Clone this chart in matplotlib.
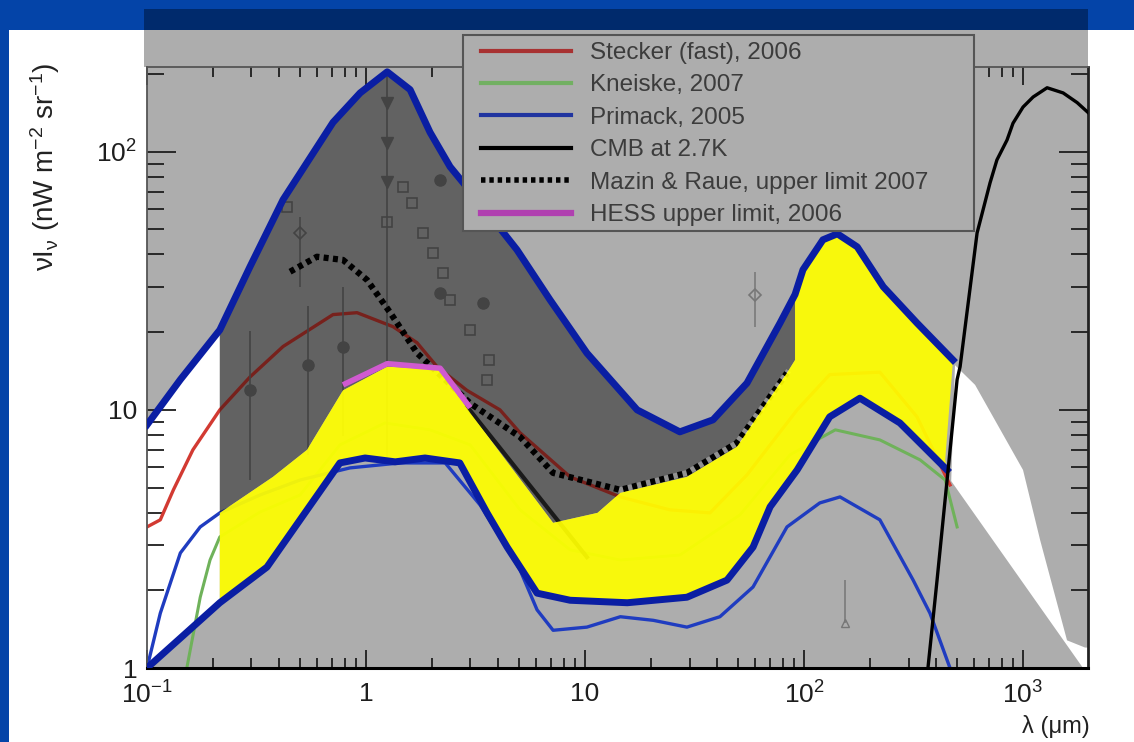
import matplotlib
matplotlib.use("Agg")
import matplotlib.pyplot as plt
from matplotlib.patches import Rectangle, Polygon
from matplotlib.lines import Line2D

plt.rcParams.update(
    {
        "font.family": ["Liberation Sans", "DejaVu Sans"],
        "mathtext.fontset": "custom",
        "mathtext.rm": "Liberation Sans",
        "mathtext.it": "Liberation Sans:italic",
        "mathtext.bf": "Liberation Sans:bold",
    }
)

# --- data (wavelength in micron, nu I_nu in nW m^-2 sr^-1) -------------------
upper_x = [0.1, 0.142, 0.215, 0.295, 0.418, 0.707, 0.94, 1.25, 1.59, 1.96, 2.42,
           3.42, 4.89, 6.92, 10.2, 17.3, 27.1, 38.4, 54.9, 77.7, 91, 98.9, 122,
           142, 175, 230, 328, 479]
upper_y = [8.75, 13.1, 20.4, 35.8, 65.2, 130, 169, 204, 174, 119, 87.5,
           61.2, 41.7, 26.7, 16.6, 10.0, 8.22, 9.15, 12.7, 21.7, 28.0, 34.9, 45.6,
           48.1, 42.8, 30.0, 21.7, 15.6]

lower_x = [0.1, 0.215, 0.353, 0.5, 0.76, 0.99, 1.36, 1.86, 2.68, 3.57, 4.41,
           6.04, 8.55, 15.6, 29.2, 44.5, 58.5, 70, 93, 131, 180, 274, 364, 450]
lower_y = [1.0, 1.79, 2.46, 3.75, 6.23, 6.51, 6.29, 6.51, 6.23, 3.99, 2.94,
           1.95, 1.83, 1.79, 1.88, 2.19, 2.94, 4.21, 5.85, 9.4, 11.1, 8.9, 7.0, 5.85]

band_top_x = [0.215, 0.376, 0.538, 0.785, 1.25, 2.18, 2.99, 7.15, 11.4, 14.5,
              29.2, 49.4, 83.6, 91]
band_top_y = [3.99, 5.5, 7.0, 11.9, 14.7, 14.3, 9.73, 3.65, 3.99, 4.77,
              5.5, 7.19, 13.9, 15.6]
band_edge = (441, 6.4)

stecker_x = [0.1, 0.115, 0.132, 0.162, 0.215, 0.295, 0.418, 0.707, 0.91, 1.33,
             1.71, 2.11, 2.89, 4.09, 5.05, 8.55, 14.5, 24.4, 37.2, 54.9, 93,
             131, 222, 328, 464]
stecker_y = [3.52, 3.75, 4.9, 7.0, 10.0, 13.4, 17.6, 23.4, 23.8, 21.0,
             18.2, 14.7, 11.9, 10.0, 8.15, 5.5, 4.6, 4.1, 3.99, 5.6, 10.0,
             13.7, 14.0, 9.4, 5.12]

kneiske_x = [0.152, 0.175, 0.194, 0.215, 0.328, 0.5, 0.76, 1.22, 1.96, 2.99,
             5.05, 8.55, 14.5, 27.1, 51, 86.3, 139, 222, 339, 441, 500]
kneiske_y = [1.0, 1.88, 2.62, 3.22, 4.02, 4.68, 7.32, 8.9, 8.37, 7.32,
             4.1, 2.87, 2.62, 2.74, 3.92, 6.7, 8.37, 7.65, 6.4, 5.35, 3.52]

primack_x = [0.1, 0.115, 0.142, 0.175, 0.215, 0.328, 0.5, 0.845, 1.43, 2.3,
             3.32, 4.32, 5.05, 6.04, 7.15, 10.2, 14.5, 20.5, 29.2, 41.3, 58.5,
             83.6, 118, 146, 222, 315, 376, 464]
primack_y = [1.0, 1.63, 2.79, 3.52, 3.99, 4.68, 5.35, 5.96, 6.23, 6.23,
             4.28, 3.0, 2.4, 1.68, 1.40, 1.44, 1.58, 1.53, 1.44, 1.58, 2.06,
             3.52, 4.36, 4.6, 3.75, 2.19, 1.63, 1.0]

cmb_x = [368, 405, 450, 500, 516, 617, 707, 760, 845, 900, 1000, 1112, 1288,
         1525, 1767, 1980]
cmb_y = [1.0, 2.19, 5.35, 13.1, 14.7, 48.5, 75.8, 93, 111, 129, 149, 163, 177,
         169, 155, 142]

mazin_x = [0.45, 0.597, 0.785, 1.01, 1.29, 1.71, 2.99, 5.05, 7.15, 14.5,
           29.2, 49.4, 83.6]
mazin_y = [34.3, 39.2, 38.1, 31.9, 23.8, 16.6, 10.6, 7.86, 5.7, 4.9,
           5.7, 7.45, 13.9]

hess_x = [0.785, 1.25, 2.18, 2.99]
hess_y = [12.5, 15.1, 14.5, 10.2]

white_x = [489, 604, 1000, 1197, 1588, 1919, 1980, 1980, 1879, 470]
white_y = [14.9, 12.5, 5.85, 3.13, 1.28, 1.2, 1.2, 1.0, 1.0, 5.3]

# faint measurement markers of the underlying plot
circ_x = [0.295, 0.543, 0.785, 2.18, 2.18, 3.42]
circ_y = [11.9, 14.9, 17.6, 78, 28.4, 26]
sq_x = [1.25, 1.48, 1.63, 1.82, 2.02, 2.24, 2.42, 2.99, 3.66, 3.57, 0.436]
sq_y = [53.5, 73, 63.4, 48.5, 40.6, 34, 26.7, 20.4, 15.6, 13.1, 61]
tri_x = [1.25, 1.25, 1.25]
tri_y = [155, 108, 76.5]
dia_x = [0.5, 59.7]
dia_y = [48.5, 27.9]
dia_lo = [30, 21.0]
dia_hi = [56, 34.3]
uparrow_x = [154]
uparrow_y = [1.5]

W, H = 1134, 742


def fx(px):
    return px / W


def fy(py):
    return 1 - py / H


BLUE_FRAME = "#0444a8"
NAVY = "#002a6c"
GREY = "#adadad"
ENV = "#0a1ea3"
DOTS = (0, (0.8, 0.7))
MARK = "#767676"

fig = plt.figure(figsize=(W / 100, H / 100), dpi=100)
fig.patch.set_facecolor(BLUE_FRAME)

# slide background pieces
fig.add_artist(Rectangle((fx(9), 0), 1 - fx(9), fy(30), transform=fig.transFigure,
                         facecolor="white", edgecolor="none", zorder=-5))
fig.add_artist(Rectangle((fx(144), fy(30)), fx(1088 - 144), 21 / H,
                         transform=fig.transFigure, facecolor=NAVY,
                         edgecolor="none", zorder=-5))
fig.add_artist(Rectangle((fx(144), fy(67)), fx(1088 - 144), 37 / H,
                         transform=fig.transFigure, facecolor=GREY,
                         edgecolor="none", zorder=-5))

ax = fig.add_axes([fx(147), fy(668), fx(1088 - 147), (668 - 67) / H])
ax.set_facecolor(GREY)
ax.set_xscale("log")
ax.set_yscale("log")
ax.set_xlim(0.1, 1980)
ax.set_ylim(1, 213)

# white patches
left_white = [(x, y) for x, y in zip(upper_x, upper_y) if x <= 0.215]
left_white += [(x, y) for x, y in zip(lower_x, lower_y) if x <= 0.215][::-1]
ax.add_patch(Polygon(left_white, closed=True, facecolor="white",
                     edgecolor="none", zorder=1))
ax.add_patch(Polygon(list(zip(white_x, white_y)), closed=True, facecolor="white",
                     edgecolor="none", zorder=1))

# model curves
ax.plot(stecker_x, stecker_y, color="#d23a32", lw=2.4, zorder=2)
ax.plot(kneiske_x, kneiske_y, color="#6fb25a", lw=2.2, zorder=2)
ax.plot(primack_x, primack_y, color="#1f3cc0", lw=2.4, zorder=2)

# underlying data points
mk = dict(color=MARK, ls="none", zorder=2)
ax.plot(circ_x, circ_y, marker="o", ms=8, **mk)
ax.plot(sq_x, sq_y, marker="s", ms=7, mfc="none", mew=1.2, **mk)
ax.plot(tri_x, tri_y, marker="v", ms=9, **mk)
ax.plot(dia_x, dia_y, marker="D", ms=6, mfc="none", mew=1.2, **mk)
ax.vlines(dia_x, dia_lo, dia_hi, color=MARK, lw=1.1, zorder=2)
ax.plot(uparrow_x, uparrow_y, marker="^", ms=6, mfc="none", **mk)
ax.vlines(uparrow_x, [y * 1.0 for y in uparrow_y], [2.2], color=MARK, lw=1.1,
          zorder=2)
ax.vlines([1.25], 6.5, 204, color=MARK, lw=1.2, zorder=2)
for x, y in zip(circ_x[:3], circ_y[:3]):
    ax.vlines([x], y * 0.45, y * 1.7, color=MARK, lw=1.2, zorder=2)

ax.plot(mazin_x[-4:], mazin_y[-4:], color="white", lw=4, zorder=2.5)
ax.plot(mazin_x, mazin_y, color="black", lw=4.5, ls=DOTS, zorder=2.6)

# dark overlay (upper limit region)
dark = [(x, y) for x, y in zip(upper_x, upper_y) if 0.215 <= x <= 91]
dark += list(zip(band_top_x, band_top_y))[::-1]
ax.add_patch(Polygon(dark, closed=True, facecolor="black", alpha=0.43,
                     edgecolor="none", zorder=3))
ax.plot([2.89, 10.2], [10.3, 2.69], color="#1a1a1a", lw=3, zorder=3.1)

# yellow band
band = list(zip(band_top_x, band_top_y))
band += [(x, y) for x, y in zip(upper_x, upper_y) if x >= 91]
band += [band_edge]
band += [(x, y) for x, y in zip(lower_x, lower_y) if x >= 0.215][::-1]
ax.add_patch(Polygon(band, closed=True, facecolor="#ffff00", alpha=0.93,
                     edgecolor="none", zorder=4))
ax.plot(hess_x, hess_y, color="#d05ad0", lw=4, zorder=4.2,
        solid_capstyle="butt")

# envelope lines
ax.plot(upper_x, upper_y, color=ENV, lw=5, zorder=5, solid_joinstyle="round")
ax.plot(lower_x, lower_y, color=ENV, lw=5, zorder=5, solid_joinstyle="round")
ax.plot(cmb_x, cmb_y, color="black", lw=2.4, zorder=5)

# axes styling
ax.set_xticks([0.1, 1, 10, 100, 1000])
ax.set_xticklabels([r"$10^{-1}$", "1", "10", r"$10^{2}$", r"$10^{3}$"])
ax.set_yticks([1, 10, 100])
ax.set_yticklabels(["1", "10", r"$10^{2}$"])
ax.tick_params(which="both", direction="in", top=True, right=True,
               labelsize=19, colors="#1e1e1e")
ax.tick_params(axis="y", which="major", length=21, width=1.3, pad=7)
ax.tick_params(axis="y", which="minor", length=12, width=1.3)
ax.tick_params(axis="x", which="major", length=13, width=1.3, pad=10)
ax.tick_params(axis="x", which="minor", length=7, width=1.3)
for side, lw, c in [("bottom", 2.2, "black"), ("right", 2.0, "#222222"),
                    ("left", 1.3, "#555555"), ("top", 1.3, "#555555")]:
    ax.spines[side].set_linewidth(lw)
    ax.spines[side].set_color(c)

fig.text(fx(45), fy(167), "νI$_{\\mathrm{ν}}$ (nW m$^{-2}$ sr$^{-1}$)",
         rotation=90, ha="center", va="center", fontsize=20, color="#222222")
fig.text(fx(1090), fy(727), "λ (μm)", ha="right", va="center",
         fontsize=17, color="#222222")

# legend
fig.add_artist(Rectangle((fx(463), fy(231)), fx(974 - 463), (231 - 35) / H,
                         transform=fig.transFigure, facecolor=GREY,
                         edgecolor="#555555", lw=1.5, zorder=6))
handles = [
    Line2D([], [], color="#a83232", lw=3),
    Line2D([], [], color="#72b062", lw=3),
    Line2D([], [], color="#2034a0", lw=3),
    Line2D([], [], color="black", lw=3),
    Line2D([], [], color="black", lw=4, ls=DOTS),
    Line2D([], [], color="#b040b0", lw=4.5),
]
labels = ["Stecker (fast), 2006", "Kneiske, 2007", "Primack, 2005",
          "CMB at 2.7K", "Mazin & Raue, upper limit 2007",
          "HESS upper limit, 2006"]
leg = fig.legend(handles, labels, loc="upper left",
                 bbox_to_anchor=(fx(481), fy(42)), frameon=False, fontsize=17.5,
                 handlelength=3.7, handletextpad=0.78, labelspacing=0.43,
                 borderpad=0, borderaxespad=0)
leg.set_zorder(7)
for t in leg.get_texts():
    t.set_color("#3c3c3c")

fig.savefig("out.png", dpi=100, facecolor=fig.get_facecolor())
